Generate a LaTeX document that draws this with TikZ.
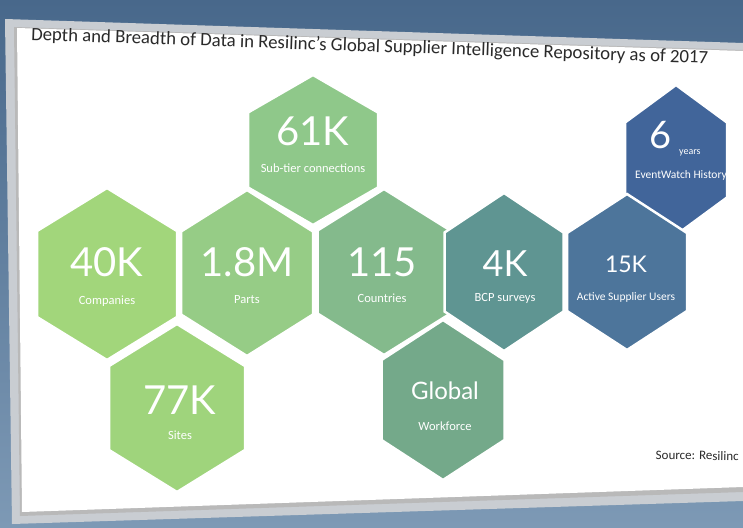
\documentclass[tikz,border=0pt]{standalone}
\usepackage{fontspec}
\setmainfont{Carlito}
\newfontfamily\numfont{Lato}
\usetikzlibrary{positioning}
\definecolor{bgtop}{HTML}{48688B}
\definecolor{bgbot}{HTML}{7D99B5}
\definecolor{framegray}{HTML}{C9CDD2}
\definecolor{titlegray}{HTML}{2A2A2A}
\definecolor{hcomp}{HTML}{A2D67B}
\definecolor{hparts}{HTML}{96CC86}
\definecolor{hsites}{HTML}{9FD47C}
\definecolor{hsub}{HTML}{8FC88A}
\definecolor{hcountries}{HTML}{84BA8C}
\definecolor{hglobal}{HTML}{74A98A}
\definecolor{hbcp}{HTML}{5F9592}
\definecolor{husers}{HTML}{4D759B}
\definecolor{hyears}{HTML}{41659A}
% one hexagon cell: x, y, width, height, colour
\newcommand{\hexcell}[5]{%
  \fill[#5, draw=white, line width=2.5pt, line join=miter]
    (#1,{#2-#4/2}) -- ({#1+#3/2},{#2-#4/4}) -- ({#1+#3/2},{#2+#4/4})
    -- (#1,{#2+#4/2}) -- ({#1-#3/2},{#2+#4/4}) -- ({#1-#3/2},{#2-#4/4}) -- cycle;}
\tikzset{
  num/.style={text=white, inner sep=0pt, font=\numfont\fontsize{40}{40}\selectfont},
  lbl/.style={text=white, inner sep=0pt, font=\fontsize{12.5}{13}\selectfont},
}
\begin{document}
\begin{tikzpicture}[x=1pt, y=-1pt]
\useasboundingbox (0,0) rectangle (743,527);
\shade[top color=bgtop, bottom color=bgbot] (0,0) rectangle (743,527);
% slide
\fill[framegray] (5,19) -- (743,43) -- (743,501) -- (12,524) -- cycle;
\fill[gray!55] (14,27) -- (743,50) -- (743,492) -- (20,516) -- cycle;
\fill[white] (17,28) -- (743,51) -- (743,487) -- (22,512) -- cycle;
\node[rotate=-2, anchor=west, inner sep=0pt, text=titlegray, font=\fontsize{18.8}{19}\selectfont] (title) at (31,35)
  {Depth and Breadth of Data in Resilinc’s Global Supplier Intelligence Repository as of 2017};
% cells
\hexcell{107}{274}{140}{172}{hcomp}
\hexcell{247}{273}{132}{166}{hparts}
\hexcell{313}{150}{130}{150}{hsub}
\hexcell{384}{272}{133}{166}{hcountries}
\hexcell{177}{408}{136}{168}{hsites}
\hexcell{443}{400}{123}{160}{hglobal}
\hexcell{504}{272}{119}{158}{hbcp}
\hexcell{676}{160}{102}{150}{hyears}
\hexcell{627}{272}{120}{156}{husers}
\node[num] (comp) at (107,262) {40K};
\node[lbl] (compl) at (107,301) {Companies};
\node[num] (parts) at (247,262) {1.8M};
\node[lbl] (partsl) at (247,300) {Parts};
\node[num] (sub) at (313,131) {61K};
\node[lbl] (subl) at (313,168) {Sub-tier connections};
\node[num] (countries) at (382,262) {115};
\node[lbl] (countriesl) at (382,298) {Countries};
\node[num] (sites) at (180,400) {77K};
\node[lbl] (sitesl) at (180,435) {Sites};
\node[num, font=\numfont\fontsize{24}{24}\selectfont] (global) at (445,391) {Global};
\node[lbl] (globall) at (445,426) {Workforce};
\node[num, font=\numfont\fontsize{36}{36}\selectfont] (bcp) at (505,264) {4K};
\node[lbl] (bcpl) at (505,298) {BCP surveys};
\node[num, font=\numfont\fontsize{23}{23}\selectfont] (users) at (626,264) {15K};
\node[lbl, font=\fontsize{11.5}{12}\selectfont] (usersl) at (626,297) {Active Supplier Users};
\node[num, font=\numfont\fontsize{38}{38}\selectfont] (years) at (661,135) {6};
\node[lbl, font=\fontsize{10}{10}\selectfont, anchor=west] (yearsu) at (679,153) {years};
\node[lbl, font=\fontsize{11.5}{12}\selectfont] (yearsl) at (681,175) {EventWatch History};
\node[anchor=east, inner sep=0pt, text=titlegray, font=\fontsize{13}{13}\selectfont, rotate=-1] (source) at (739,456) {Source: Resilinc};
\end{tikzpicture}
\end{document}
